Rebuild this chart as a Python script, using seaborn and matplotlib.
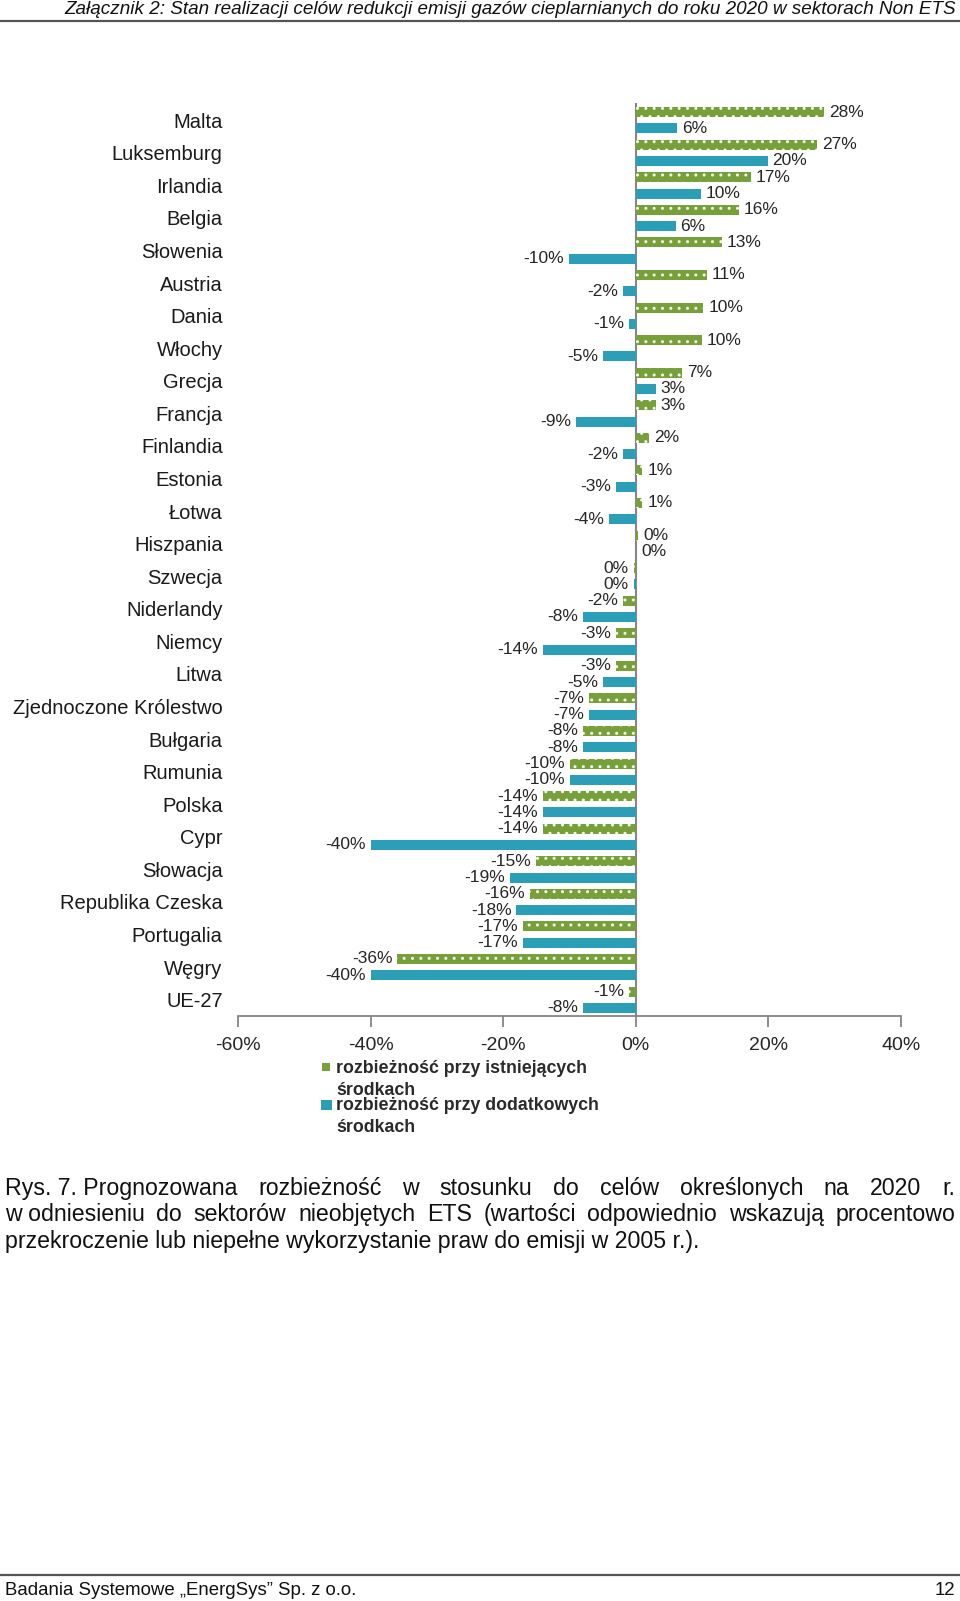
import numpy as np
import pandas as pd
import matplotlib
matplotlib.use('Agg')
import matplotlib.pyplot as plt
import seaborn as sns
from matplotlib import font_manager
from matplotlib.patches import Rectangle

kraje = ['Malta', 'Luksemburg', 'Irlandia', 'Belgia', 'Słowenia', 'Austria', 'Dania',
         'Włochy', 'Grecja', 'Francja', 'Finlandia', 'Estonia', 'Łotwa', 'Hiszpania',
         'Szwecja', 'Niderlandy', 'Niemcy', 'Litwa', 'Zjednoczone Królestwo', 'Bułgaria',
         'Rumunia', 'Polska', 'Cypr', 'Słowacja', 'Republika Czeska', 'Portugalia',
         'Węgry', 'UE-27']
istniejace = [28.4, 27.3, 17.4, 15.6, 13.0, 10.7, 10.2, 10.0, 7.0, 3.0, 2.0, 1.0, 1.0, 0.4,
              -0.3, -2.0, -3.0, -3.0, -7.0, -8.0, -10.0, -14.0, -14.0, -15.0, -16.0, -17.0,
              -36.0, -1.0]
dodatkowe = [6.2, 19.9, 9.8, 6.0, -10.1, -2.0, -1.0, -5.0, 3.0, -9.0, -2.0, -3.0, -4.0, 0.1,
             -0.3, -8.0, -14.0, -5.0, -7.0, -8.0, -10.0, -14.0, -40.0, -19.0, -18.0, -17.0,
             -40.0, -8.0]
serie = ['rozbieżność przy istniejących środkach', 'rozbieżność przy dodatkowych środkach']
osie_x = [-60, -40, -20, 0, 20, 40]

ZIELONY = '#77a03a'
TURKUS = '#2b9fb8'
SZARY = '#868686'

df = pd.DataFrame({
    'kraj': kraje * 2,
    'wartosc': istniejace + dodatkowe,
    'seria': [serie[0]] * len(kraje) + [serie[1]] * len(kraje),
})

sns.set_style('white')
dostepne = {f.name for f in font_manager.fontManager.ttflist}
WASKI = 'Liberation Sans Narrow' if 'Liberation Sans Narrow' in dostepne else 'Liberation Sans'
plt.rcParams['font.family'] = ['Liberation Sans', 'DejaVu Sans']

W, H = 960, 1601
fig = plt.figure(figsize=(W / 100, H / 100), dpi=100)
fig.patch.set_facecolor('white')
ax = fig.add_axes([238 / W, (H - 1016) / H, (901 - 238) / W, 913 / H])

sns.barplot(data=df, y='kraj', x='wartosc', hue='seria', orient='h',
            palette=[ZIELONY, TURKUS], width=1.0, gap=0.38, saturation=1,
            errorbar=None, legend=False, ax=ax)

for p in ax.containers[0]:
    p.set_hatch('..')
    p.set_edgecolor('#f4f8ec')
    p.set_linewidth(0)
for p in ax.containers[1]:
    p.set_linewidth(0)

for cont, vals in zip(ax.containers, [istniejace, dodatkowe]):
    ax.bar_label(cont, labels=[f"{round(v)}%" for v in vals], padding=3.5,
                 fontsize=12.5, color='#262626')

ax.set_xlim(-60, 40)
ax.set_ylim(27.5, -0.53)
ax.set_xticks(osie_x)
ax.set_xticklabels([f"{v}%" for v in osie_x])
ax.set_xlabel('')
ax.set_ylabel('')
ax.tick_params(axis='x', direction='out', length=8, width=1.3, color=SZARY,
               labelsize=14, labelcolor='#262626', pad=7, bottom=True)
ax.tick_params(axis='y', length=0, labelsize=14.5, labelcolor='#1a1a1a', pad=11)
for s in ['left', 'right', 'top']:
    ax.spines[s].set_visible(False)
ax.spines['bottom'].set_color(SZARY)
ax.spines['bottom'].set_linewidth(1.3)
ax.axvline(0, color=SZARY, lw=1.5, zorder=0.5)
ax.grid(False)


def px(x, y):
    return x / W, 1 - y / H


# legenda
fig.add_artist(Rectangle(px(322, 1071), 8 / W, 8 / H, transform=fig.transFigure,
                         color=ZIELONY, lw=0))
fig.add_artist(Rectangle(px(321, 1110), 11 / W, 10 / H, transform=fig.transFigure,
                         color=TURKUS, lw=0))
for yy, tekst in [(1068, 'rozbieżność przy istniejących'), (1090, 'środkach'),
                  (1105, 'rozbieżność przy dodatkowych'), (1127, 'środkach')]:
    fig.text(*px(336, yy), tekst, fontsize=12.8, fontweight='bold', va='center', ha='left',
             color='#2a2a2a')

renderer = fig.canvas.get_renderer()


def dopasuj(x, y, s, szer, ha='left', **kw):
    t = fig.text(*px(x, y), s, ha=ha, va='center', fontsize=12, **kw)
    w = t.get_window_extent(renderer).width
    t.set_fontsize(12 * szer / w)
    return t


def wyjustuj(y, slowa, lewo, prawo, rozmiar, **kw):
    ts = [fig.text(*px(0, y), s, va='center', ha='left', fontsize=rozmiar, **kw) for s in slowa]
    szer = [t.get_window_extent(renderer).width for t in ts]
    odstep = (prawo - lewo - sum(szer)) / (len(slowa) - 1)
    x = lewo
    for t, w in zip(ts, szer):
        t.set_x(x / W)
        x += w + odstep


# naglowek
dopasuj(956, 10, 'Załącznik 2: Stan realizacji celów redukcji emisji gazów cieplarnianych '
        'do roku 2020 w sektorach Non ETS', 890, ha='right', family=WASKI, style='italic',
        color='#111111')
fig.add_artist(plt.Line2D([0, 1], [1 - 21 / H] * 2, color='#555555', lw=1.6))

# podpis
t3 = dopasuj(5, 1241, 'przekroczenie lub niepełne wykorzystanie praw do emisji w 2005 r.).',
             695, family=WASKI, color='#111111')
rozm = t3.get_fontsize()
wyjustuj(1188, ['Rys. 7. Prognozowana', 'rozbieżność', 'w', 'stosunku', 'do', 'celów',
                'określonych', 'na', '2020', 'r.'], 5, 955, rozm, family=WASKI, color='#111111')
wyjustuj(1214, ['w odniesieniu', 'do', 'sektorów', 'nieobjętych', 'ETS', '(wartości',
                'odpowiednio', 'wskazują', 'procentowo'], 5, 955, rozm, family=WASKI,
         color='#111111')

# stopka
fig.add_artist(plt.Line2D([0, 1], [1 - 1575 / H] * 2, color='#555555', lw=1.6))
t_st = dopasuj(5, 1590, 'Badania Systemowe „EnergSys” Sp. z o.o.', 352, family=WASKI,
               color='#111111')
fig.text(*px(955, 1590), '12', ha='right', va='center', family=WASKI,
         fontsize=t_st.get_fontsize(), color='#111111')

fig.savefig('out.png', dpi=100, facecolor='white')
